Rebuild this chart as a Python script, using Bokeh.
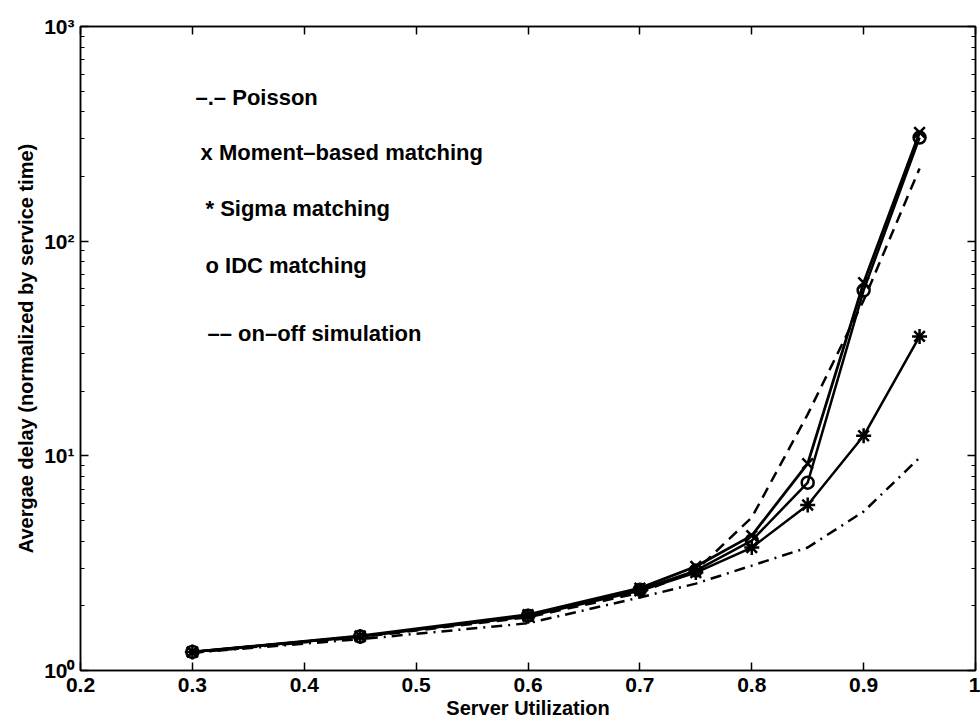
from bokeh.plotting import figure
from bokeh.models import FixedTicker, LogAxis, LinearAxis, Label, CustomJSTickFormatter
from bokeh.embed import file_html
from bokeh.resources import INLINE

# ---------------- data ----------------
utilization = [0.3, 0.45, 0.6, 0.7, 0.75, 0.8, 0.85, 0.9, 0.95]

moment_based = [1.22, 1.45, 1.82, 2.42, 3.05, 4.25, 9.2, 64.0, 321.0]
sigma_matching = [1.22, 1.44, 1.79, 2.35, 2.86, 3.74, 5.9, 12.4, 36.0]
idc_matching = [1.22, 1.44, 1.80, 2.38, 2.92, 4.03, 7.5, 59.0, 304.0]
onoff_simulation = [1.21, 1.43, 1.77, 2.30, 2.92, 5.16, 15.6, 53.0, 218.0]
poisson = [1.21, 1.40, 1.66, 2.19, 2.54, 3.08, 3.74, 5.5, 9.8]

x_ticks = [0.2, 0.3, 0.4, 0.5, 0.6, 0.7, 0.8, 0.9, 1.0]
y_ticks = [1, 10, 100, 1000]
y_tick_labels = ["10\u2070", "10\u00b9", "10\u00b2", "10\u00b3"]
y_minor = [m * 10 ** k for k in range(3) for m in range(2, 10)]

legend_texts = [
    "\u2013.\u2013 Poisson",
    "x Moment\u2013based matching",
    "* Sigma matching",
    "o IDC matching",
    "\u2013\u2013 on\u2013off simulation",
]
# legend text anchors (layout, in data units of the axes)
legend_x = [0.3028, 0.3073, 0.3117, 0.3117, 0.3135]
legend_y = [466.0, 259.0, 142.0, 76.9, 37.1]

FONT = "Liberation Sans"
FS = "21px"

p = figure(
    width=980, height=727,
    x_range=(0.2, 1.0), y_range=(1, 1000),
    y_axis_type="log",
    output_backend="svg", toolbar_location=None,
    min_border_left=80, min_border_right=5,
    min_border_top=26, min_border_bottom=57,
    background_fill_color="white", border_fill_color="white",
)
p.xgrid.visible = False
p.ygrid.visible = False
p.outline_line_color = "black"
p.outline_line_width = 1.5

xt = FixedTicker(ticks=x_ticks)
yt = FixedTicker(ticks=y_ticks, minor_ticks=y_minor)

xa = p.xaxis[0]
xa.ticker = xt
xa.major_label_overrides = {1.0: "1"}
xa.minor_tick_line_color = None
xa.major_tick_in = 8
xa.major_tick_out = 0
xa.major_label_standoff = 7
xa.axis_label = "Server Utilization"
xa.axis_label_standoff = 2
ya = p.yaxis[0]
ya.ticker = yt
ya.major_label_overrides = dict(zip(y_ticks, y_tick_labels))
ya.major_tick_in = 8
ya.major_tick_out = 0
ya.minor_tick_in = 4
ya.minor_tick_out = 0
ya.major_label_standoff = 6
ya.axis_label = "Avergae delay (normalized by service time)"
ya.axis_label_standoff = 4

for ax in (xa, ya):
    ax.axis_line_color = "black"
    ax.axis_line_width = 1.5
    ax.major_tick_line_width = 1.5
    ax.minor_tick_line_width = 1.2
    ax.major_label_text_font = FONT
    ax.major_label_text_font_size = FS
    ax.major_label_text_font_style = "bold"
    ax.major_label_text_color = "black"
    ax.axis_label_text_font = FONT
    ax.axis_label_text_font_size = "20px"
    ax.axis_label_text_font_style = "bold"
    ax.axis_label_text_color = "black"

blank = CustomJSTickFormatter(code="return ''")
top = LinearAxis(ticker=xt, formatter=blank, major_label_standoff=0,
                 major_label_text_font_size="2px",
                 major_tick_in=8, major_tick_out=0, minor_tick_line_color=None,
                 axis_line_width=1.5, major_tick_line_width=1.5)
right = LogAxis(ticker=yt, formatter=blank, major_label_standoff=0,
                major_label_text_font_size="2px",
                major_tick_in=8, major_tick_out=0, minor_tick_in=4, minor_tick_out=0,
                axis_line_width=1.5, major_tick_line_width=1.5, minor_tick_line_width=1.2)
p.add_layout(top, "above")
p.add_layout(right, "right")

# curves
p.line(utilization, poisson, line_color="black", line_width=2.5, line_dash="11 6 2 6")
p.line(utilization, onoff_simulation, line_color="black", line_width=2.5, line_dash="11 7")
p.line(utilization, sigma_matching, line_color="black", line_width=2.5)
p.line(utilization, idc_matching, line_color="black", line_width=2.5)
p.line(utilization, moment_based, line_color="black", line_width=2.8)

p.scatter(utilization, sigma_matching, marker="asterisk", size=15, line_color="black", line_width=2.5)
p.scatter(utilization, idc_matching, marker="circle", size=12, line_color="black",
          fill_color=None, line_width=2.5)
p.scatter(utilization, moment_based, marker="x", size=15, line_color="black", line_width=2.5)

for t, lx, ly in zip(legend_texts, legend_x, legend_y):
    p.add_layout(Label(x=lx, y=ly, text=t, text_font=FONT, text_font_size="22px",
                       text_font_style="bold", text_baseline="middle", text_align="left",
                       text_color="black"))

open("out.html", "w").write(file_html(p, INLINE))
